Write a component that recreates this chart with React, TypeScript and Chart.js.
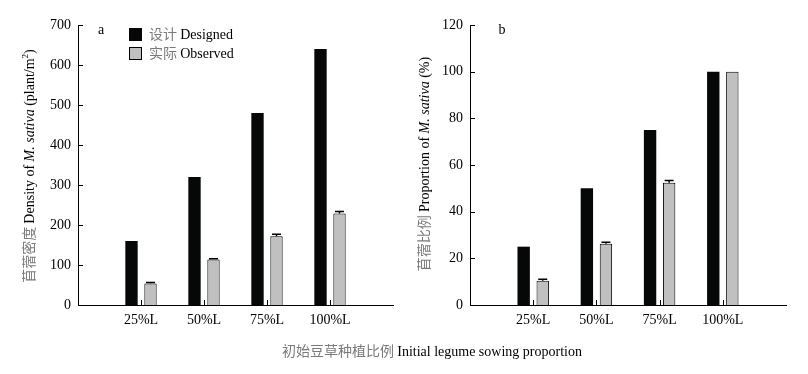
import React, { useEffect, useRef } from "react";
import { Chart, registerables } from "chart.js";

Chart.register(...registerables);

const categories = ["25%L", "50%L", "75%L", "100%L"];
const densityDesigned = [160, 320, 480, 640];
const densityObserved = [54, 114, 172, 229];
const densityObservedErr = [2, 1.5, 5, 5];
const proportionDesigned = [25, 50, 75, 100];
const proportionObserved = [10.4, 26.3, 52.4, 100];
const proportionObservedErr = [0.6, 0.6, 1, 0];
const densityAxis = { max: 700, step: 100 };
const proportionAxis = { max: 120, step: 20 };
const legendLabels = [
  ["设计", "Designed"],
  ["实际", "Observed"],
];

const SERIF = '"Liberation Serif", "Times New Roman", serif';
const CJK = '"Noto Sans CJK SC", sans-serif';
const GRAYTEXT = "#7a7a7a";
const BLACK = "#050807";
const GRAY = "#c0c0c0";

type Seg = { text: string; font: string; color: string; dy?: number };

function drawSegments(ctx: CanvasRenderingContext2D, segs: Seg[], cx: number, cy: number, rotate: boolean, align: "center" | "left" = "center") {
  ctx.save();
  ctx.translate(cx, cy);
  if (rotate) ctx.rotate(-Math.PI / 2);
  ctx.textBaseline = "alphabetic";
  ctx.textAlign = "left";
  let total = 0;
  for (const s of segs) {
    ctx.font = s.font;
    total += ctx.measureText(s.text).width;
  }
  let x = align === "center" ? -total / 2 : 0;
  for (const s of segs) {
    ctx.font = s.font;
    ctx.fillStyle = s.color;
    ctx.fillText(s.text, x, s.dy || 0);
    x += ctx.measureText(s.text).width;
  }
  ctx.restore();
}

function pad(vals: number[]) {
  return [null, ...vals, null];
}

function makeChart(
  canvas: HTMLCanvasElement,
  cfg: {
    designed: number[];
    observed: number[];
    err: number[];
    axis: { max: number; step: number };
    yWidth: number;
    rightPad: number;
    letter: string;
    letterX: number;
    yTitle: Seg[];
    yTitleX: number;
    yTitleY: number;
    legend: boolean;
  }
) {
  const plugin = {
    id: "decor" + cfg.letter,
    afterDatasetsDraw(chart: any) {
      const ctx: CanvasRenderingContext2D = chart.ctx;
      const xs = chart.scales.x;
      const ys = chart.scales.y;
      const area = chart.chartArea;
      ctx.save();
      // error bars
      const meta = chart.getDatasetMeta(1);
      ctx.strokeStyle = "#000";
      ctx.lineWidth = 1.5;
      meta.data.forEach((el: any, i: number) => {
        const v = chart.data.datasets[1].data[i];
        if (v == null) return;
        const e = cfg.err[i - 1];
        if (!e) return;
        const yCap = ys.getPixelForValue(v + e);
        ctx.beginPath();
        ctx.moveTo(el.x, el.y);
        ctx.lineTo(el.x, yCap);
        ctx.moveTo(el.x - 4.5, yCap);
        ctx.lineTo(el.x + 4.5, yCap);
        ctx.stroke();
      });
      // inward ticks
      ctx.lineWidth = 1;
      ctx.beginPath();
      ys.ticks.forEach((t: any) => {
        const y = Math.round(ys.getPixelForValue(t.value)) + 0.5;
        ctx.moveTo(area.left, y);
        ctx.lineTo(area.left + 5, y);
      });
      for (let i = 1; i <= categories.length; i++) {
        const x = Math.round(xs.getPixelForValue(i)) + 0.5;
        ctx.moveTo(x, area.bottom);
        ctx.lineTo(x, area.bottom - 5);
      }
      ctx.stroke();
      ctx.restore();
    },
    afterDraw(chart: any) {
      const ctx: CanvasRenderingContext2D = chart.ctx;
      ctx.save();
      drawSegments(ctx, [{ text: cfg.letter, font: `14px ${SERIF}`, color: "#000" }], cfg.letterX, 34, false);
      drawSegments(ctx, cfg.yTitle, cfg.yTitleX, cfg.yTitleY, true);
      if (cfg.legend) {
        const rows = [
          { y: 28, fill: BLACK, stroke: false },
          { y: 47, fill: GRAY, stroke: true },
        ];
        rows.forEach((r, i) => {
          ctx.fillStyle = r.fill;
          ctx.fillRect(129, r.y, 13, 13);
          if (r.stroke) {
            ctx.strokeStyle = "#000";
            ctx.lineWidth = 1;
            ctx.strokeRect(129.5, r.y + 0.5, 12, 12);
          }
          drawSegments(
            ctx,
            [
              { text: legendLabels[i][0] + " ", font: `14px ${CJK}`, color: GRAYTEXT },
              { text: legendLabels[i][1], font: `14px ${SERIF}`, color: "#000" },
            ],
            149,
            r.y + 11,
            false,
            "left"
          );
        });
      }
      ctx.restore();
    },
  };

  return new Chart(canvas, {
    type: "bar",
    data: {
      labels: ["", ...categories, ""],
      datasets: [
        {
          label: legendLabels[0].join(" "),
          data: pad(cfg.designed) as any,
          backgroundColor: BLACK,
          borderWidth: 0,
          categoryPercentage: 0.603,
          barPercentage: 0.65,
        },
        {
          label: legendLabels[1].join(" "),
          data: pad(cfg.observed) as any,
          backgroundColor: GRAY,
          borderColor: "#000",
          borderWidth: 1,
          categoryPercentage: 0.603,
          barPercentage: 0.65,
        },
      ],
    },
    options: {
      responsive: false,
      animation: false,
      layout: { padding: { top: 25, right: cfg.rightPad, left: 0, bottom: 0 } },
      plugins: { legend: { display: false }, tooltip: { enabled: false } },
      scales: {
        x: {
          type: "category",
          offset: false,
          grid: { display: false, drawTicks: false },
          border: { display: true, color: "#000", width: 1 },
          ticks: {
            autoSkip: false,
            maxRotation: 0,
            padding: 7,
            color: "#000",
            font: { family: SERIF, size: 14 },
          },
          afterFit: (s: any) => {
            s.height = 69;
          },
        },
        y: {
          min: 0,
          max: cfg.axis.max,
          grid: { display: false, drawTicks: false },
          border: { display: true, color: "#000", width: 1 },
          ticks: {
            stepSize: cfg.axis.step,
            padding: 7,
            color: "#000",
            font: { family: SERIF, size: 14 },
          },
          afterFit: (s: any) => {
            s.width = cfg.yWidth;
          },
        },
      },
    },
    plugins: [plugin],
  });
}

export default function App() {
  const refA = useRef<HTMLCanvasElement>(null);
  const refB = useRef<HTMLCanvasElement>(null);

  useEffect(() => {
    const a = makeChart(refA.current!, {
      designed: densityDesigned,
      observed: densityObserved,
      err: densityObservedErr,
      axis: densityAxis,
      yWidth: 78,
      rightPad: 7,
      letter: "a",
      letterX: 101,
      yTitle: [
        { text: "苜蓿密度 ", font: `14px ${CJK}`, color: GRAYTEXT },
        { text: "Density of ", font: `14px ${SERIF}`, color: "#000" },
        { text: "M. sativa", font: `italic 14px ${SERIF}`, color: "#000" },
        { text: " (plant/m", font: `14px ${SERIF}`, color: "#000" },
        { text: "2", font: `9px ${SERIF}`, color: "#000", dy: -6 },
        { text: ")", font: `14px ${SERIF}`, color: "#000" },
      ],
      yTitleX: 34,
      yTitleY: 166,
      legend: true,
    });
    const b = makeChart(refB.current!, {
      designed: proportionDesigned,
      observed: proportionObserved,
      err: proportionObservedErr,
      axis: proportionAxis,
      yWidth: 70,
      rightPad: 22,
      letter: "b",
      letterX: 102,
      yTitle: [
        { text: "苜蓿比例 ", font: `14px ${CJK}`, color: GRAYTEXT },
        { text: "Proportion of ", font: `14px ${SERIF}`, color: "#000" },
        { text: "M. sativa", font: `italic 14px ${SERIF}`, color: "#000" },
        { text: " (%)", font: `14px ${SERIF}`, color: "#000" },
      ],
      yTitleX: 29,
      yTitleY: 164,
      legend: false,
    });
    return () => {
      a.destroy();
      b.destroy();
    };
  }, []);

  return (
    <div style={{ position: "absolute", left: 0, top: 0, width: 808, height: 374, background: "#fff", overflow: "hidden" }}>
      <canvas ref={refA} width={400} height={374} style={{ position: "absolute", left: 0, top: 0, width: 400, height: 374 }} />
      <canvas ref={refB} width={408} height={374} style={{ position: "absolute", left: 400, top: 0, width: 408, height: 374 }} />
      <div
        style={{
          position: "absolute",
          left: 432,
          top: 341,
          transform: "translateX(-50%)",
          whiteSpace: "nowrap",
          fontSize: 14,
          lineHeight: "18px",
          fontFamily: SERIF,
          color: "#000",
        }}
      >
        <span style={{ fontFamily: CJK, color: GRAYTEXT }}>初始豆草种植比例 </span>
        <span>Initial legume sowing proportion</span>
      </div>
    </div>
  );
}
